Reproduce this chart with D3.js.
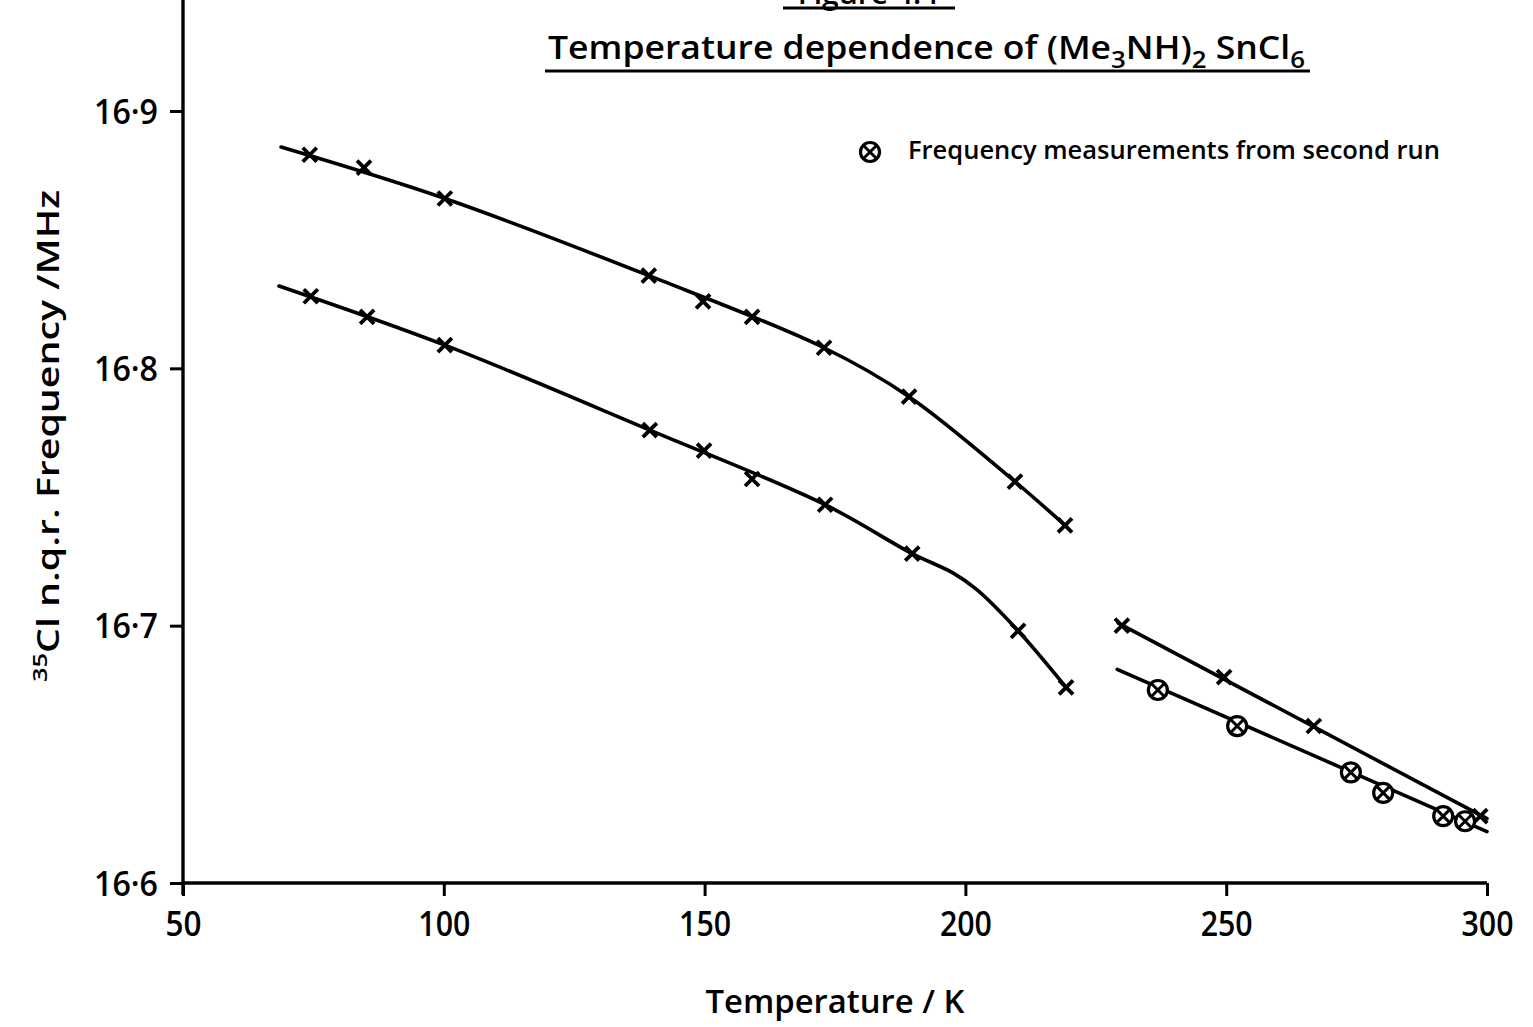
<!DOCTYPE html>
<html>
<head>
<meta charset="utf-8">
<script src="https://cdn.jsdelivr.net/npm/d3@7"></script>
<style>
  html, body { margin: 0; padding: 0; background: #fff; }
  svg { display: block; }
  text { font-family: "Open Sans", "DejaVu Sans", sans-serif; font-weight: 600; fill: #000; }
</style>
</head>
<body>
<svg id="chart" width="1533" height="1027"></svg>
<script>
// Axis ticks
const xTicks = [50, 100, 150, 200, 250, 300];
const yTicks = [16.6, 16.7, 16.8, 16.9];

// Low-temperature phase, upper line (crosses)
const upperLowT = [74.3, 84.7, 100.2, 139.3, 149.7, 159.1, 172.9, 189.2, 209.5, 219.1];
const upperLowF = [16.883, 16.878, 16.866, 16.836, 16.826, 16.820, 16.808, 16.789, 16.756, 16.739];
// Low-temperature phase, lower line (crosses)
const lowerLowT = [74.5, 85.3, 100.2, 139.5, 149.9, 159.1, 173.1, 189.8, 210.1, 219.3];
const lowerLowF = [16.828, 16.820, 16.809, 16.776, 16.768, 16.757, 16.747, 16.728, 16.698, 16.676];
// High-temperature phase, upper line (crosses)
const upperHighT = [230.0, 249.6, 266.8, 298.7];
const upperHighF = [16.700, 16.680, 16.661, 16.626];
// High-temperature phase, second run (circled crosses)
const secondRunT = [236.9, 252.1, 273.9, 280.1, 291.6, 295.8];
const secondRunF = [16.675, 16.661, 16.643, 16.635, 16.626, 16.624];

// Knots of the smooth curves drawn through the measurements
const upperLowFitT = [68.8, 100.2, 139.3, 172.9, 189.2, 209.5, 219.1];
const upperLowFitF = [16.886, 16.866, 16.836, 16.808, 16.789, 16.756, 16.739];
const lowerLowFitT = [68.4, 100.2, 139.5, 173.1, 189.8, 197.6, 202.2, 210.1, 219.3];
const lowerLowFitF = [16.832, 16.809, 16.776, 16.747, 16.728, 16.7205, 16.714, 16.698, 16.676];
const upperHighFitT = [229.3, 300];
const upperHighFitF = [16.701, 16.625];
const lowerHighFitT = [229.1, 300];
const lowerHighFitF = [16.683, 16.620];

const zip = (ts, fs) => ts.map((t, i) => ({ t, f: fs[i] }));

const svg = d3.select("#chart");
const x = d3.scaleLinear().domain([50, 300]).range([183, 1487]);
const y = d3.scaleLinear().domain([16.6, 16.9]).range([883, 111]);

const ink = "#000";

// Title block
const title = svg.append("g");
title.append("text")
  .attr("x", 868).attr("y", 4)
  .attr("text-anchor", "middle")
  .attr("font-size", 30)
  .text("Figure 4.4");
title.append("line").attr("x1", 783).attr("x2", 955).attr("y1", 8).attr("y2", 8)
  .attr("stroke", ink).attr("stroke-width", 3);

const t = title.append("text")
  .attr("x", 548).attr("y", 59)
  .attr("font-size", 33)
  .attr("textLength", 757)
  .attr("lengthAdjust", "spacingAndGlyphs");
t.append("tspan").text("Temperature  dependence  of  (Me");
t.append("tspan").attr("dy", 9).attr("font-size", 24).text("3");
t.append("tspan").attr("dy", -9).text("NH)");
t.append("tspan").attr("dy", 9).attr("font-size", 24).text("2");
t.append("tspan").attr("dy", -9).text("  SnCl");
t.append("tspan").attr("dy", 9).attr("font-size", 24).text("6");
title.append("line").attr("x1", 545).attr("x2", 1310).attr("y1", 71).attr("y2", 71)
  .attr("stroke", ink).attr("stroke-width", 3.2);

// Axes
const fmt = d => d.toFixed(1).replace(".", "\u00B7");
const gx = svg.append("g").attr("transform", `translate(0,${y(16.6)})`)
  .call(d3.axisBottom(x).tickValues(xTicks).tickSize(13).tickPadding(16).tickFormat(d3.format("d")));
const gy = svg.append("g").attr("transform", `translate(${x(50)},0)`)
  .call(d3.axisLeft(y).tickValues(yTicks).tickSize(13).tickPadding(12).tickFormat(fmt));
[gx, gy].forEach(g => {
  g.select(".domain").remove();
  g.selectAll(".tick line").attr("stroke", ink).attr("stroke-width", 3);
  g.selectAll(".tick text").attr("fill", ink).attr("font-size", 34)
    .attr("font-family", "\"Open Sans\", \"DejaVu Sans\", sans-serif")
    .attr("font-weight", 600);
});
gx.selectAll(".tick text").attr("textLength", d => d >= 100 ? 52 : 36).attr("lengthAdjust", "spacingAndGlyphs");
gy.selectAll(".tick text").attr("dy", "0.36em").attr("textLength", 64).attr("lengthAdjust", "spacingAndGlyphs");
// Axis lines: the vertical one runs to the top edge
svg.append("line").attr("x1", x(50)).attr("x2", x(50)).attr("y1", 0).attr("y2", y(16.6) + 12)
  .attr("stroke", ink).attr("stroke-width", 3.4);
svg.append("line").attr("x1", x(50)).attr("x2", x(300)).attr("y1", y(16.6)).attr("y2", y(16.6))
  .attr("stroke", ink).attr("stroke-width", 3.4);

// Axis titles
svg.append("text")
  .attr("x", x(175)).attr("y", 1013)
  .attr("text-anchor", "middle")
  .attr("font-size", 33)
  .attr("textLength", 259).attr("lengthAdjust", "spacingAndGlyphs")
  .text("Temperature / K");

const yl = svg.append("text")
  .attr("transform", "translate(59,682) rotate(-90)")
  .attr("font-size", 31)
  .attr("textLength", 492).attr("lengthAdjust", "spacingAndGlyphs");
yl.append("tspan").attr("font-size", 20).attr("dy", -12).text("35");
yl.append("tspan").attr("dy", 12).text("Cl n.q.r.  Frequency /MHz");

// Smooth curves
const line = d3.line().x(d => x(d.t)).y(d => y(d.f)).curve(d3.curveCatmullRom.alpha(0.5));
const curves = [
  zip(upperLowFitT, upperLowFitF),
  zip(lowerLowFitT, lowerLowFitF),
  zip(upperHighFitT, upperHighFitF),
  zip(lowerHighFitT, lowerHighFitF)
];
svg.append("g").selectAll("path").data(curves).join("path")
  .attr("d", line)
  .attr("fill", "none").attr("stroke", ink).attr("stroke-width", 3.6)
  .attr("stroke-linecap", "round");

// Cross markers
const crossPath = s => `M${-s},${-s}L${s},${s}M${-s},${s}L${s},${-s}`;
const crossData = [
  ...zip(upperLowT, upperLowF),
  ...zip(lowerLowT, lowerLowF),
  ...zip(upperHighT, upperHighF)
];
svg.append("g").selectAll("path").data(crossData).join("path")
  .attr("transform", d => `translate(${x(d.t)},${y(d.f)})`)
  .attr("d", crossPath(7))
  .attr("fill", "none").attr("stroke", ink).attr("stroke-width", 3.8);

// Circled crosses for the second run
function circledCross(sel) {
  sel.append("circle").attr("r", 9.5).attr("fill", "#fff").attr("stroke", ink).attr("stroke-width", 3.2);
  sel.append("path").attr("d", crossPath(6)).attr("stroke", ink).attr("stroke-width", 3);
}
svg.append("g").selectAll("g").data(zip(secondRunT, secondRunF)).join("g")
  .attr("transform", d => `translate(${x(d.t)},${y(d.f)})`)
  .call(circledCross);

// Legend
const lg = svg.append("g");
lg.append("g").attr("transform", "translate(870,152)").call(circledCross);
lg.append("text").attr("x", 908).attr("y", 159)
  .attr("font-size", 25)
  .attr("textLength", 532).attr("lengthAdjust", "spacingAndGlyphs")
  .text("Frequency  measurements  from  second  run");
</script>
</body>
</html>
